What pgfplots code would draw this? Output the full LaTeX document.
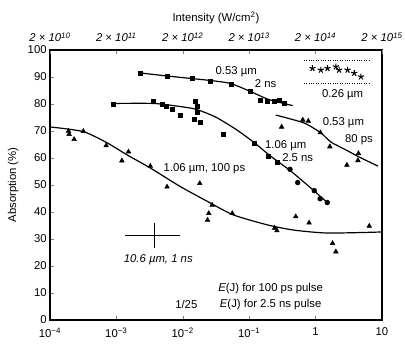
\documentclass[border=0pt]{standalone}
\usepackage{fontspec}
\setmainfont{Liberation Sans}
\usepackage{pgfplots}
\pgfplotsset{compat=1.18}
\begin{document}
\begin{tikzpicture}[x=1pt,y=1pt]
\useasboundingbox (-37.5,-18.75) rectangle (266.25,240);
\begin{axis}[at={(0,0)},anchor=south west,scale only axis,
  width=249pt,height=202.5pt,
  xmode=log,xmin=1e-4,xmax=10,ymin=0,ymax=100,
  xtick={1e-4,1e-3,1e-2,1e-1,1,10},
  xticklabels={10\textsuperscript{−4},10\textsuperscript{−3},10\textsuperscript{−2},10\textsuperscript{−1},1,10},
  xminorticks=false,
  ytick={0,10,...,100},
  xtick pos=bottom, ytick pos=left,
  tick align=inside, major tick length=3pt,
  axis line style={line width=0.9pt},
  font=\fontsize{8.5}{10}\selectfont,
  tick label style={font=\fontsize{8.5}{10}\selectfont},
  yticklabel style={xshift=1pt},
  xticklabel style={yshift=-2.5pt},
  /pgf/number format/assume math mode=true,
  ylabel={Absorption (\%)},
  ylabel style={at={(axis description cs:-0.111,0.5)},anchor=center,font=\fontsize{8.5}{10}\selectfont},
  clip=false]
% 0.53 um, 2 ns
\addplot[black,line width=0.9pt,smooth,tension=0.4] coordinates {
(0.00229,91.5)(0.00565,90.4)(0.0140,89.4)(0.0261,88.7)(0.0524,87.6)(0.105,84.6)(0.190,81.8)(0.331,80.2)(0.453,79.4)};
\addplot[only marks,mark=square*,mark size=1.5pt,black] coordinates {
(0.00229,91.4)(0.00580,90.1)(0.0138,89.5)(0.0256,88.6)(0.0533,87.2)(0.103,84.6)(0.146,81.2)(0.187,80.9)(0.238,80.9)(0.288,81.5)(0.343,80.4)};
% 1.06 um, 2.5 ns
\addplot[black,line width=0.9pt,smooth,tension=0.4] coordinates {
(8.65e-4,80.2)(0.00360,80.2)(0.00773,79.3)(0.0155,78.1)(0.0310,75.2)(0.0624,70.7)(0.116,65.9)(0.210,60.7)(0.421,55.2)(0.845,48.9)(1.53,43.3)};
\addplot[only marks,mark=square*,mark size=1.5pt,black] coordinates {
(8.85e-4,79.9)(0.00363,80.9)(0.00486,79.8)(0.00565,79.0)(0.00689,78.0)(0.00920,75.7)(0.0155,80.9)(0.0164,79.0)(0.0164,77.1)(0.0150,74.3)(0.0185,73.4)(0.0404,68.7)(0.118,65.6)(0.196,60.7)(0.265,58.6)};
\addplot[only marks,mark=*,mark size=1.8pt,black] coordinates {
(0.412,55.8)(0.538,50.9)(0.955,47.9)(1.17,44.9)(1.50,43.5)};
% 0.53 um, 80 ps
\addplot[black,line width=0.9pt,smooth,tension=0.4] coordinates {
(0.251,75.9)(0.664,73.0)(1.20,69.3)(1.70,65.9)(2.86,63.0)(4.50,60.4)(8.70,57.0)};
\addplot[only marks,mark=triangle*,mark size=2pt,black] coordinates {
(0.308,71.5)(0.641,74.1)(0.776,73.7)(1.18,69.4)(1.64,64.2)(4.42,61.7)(4.34,59.1)(2.96,57.4)};
% 1.06 um, 100 ps
\addplot[black,line width=0.9pt,smooth,tension=0.4] coordinates {
(1e-4,71.5)(3.15e-4,69.8)(7.26e-4,65.6)(1.46e-3,61.1)(3.24e-3,56.3)(9.20e-3,49.4)(0.0236,43.9)(0.0580,38.9)(0.190,35.2)(0.469,33.3)(1.53,32.2)(10,32.6)};
\addplot[only marks,mark=triangle*,mark size=2pt,black] coordinates {
(1.90e-4,70.0)(1.94e-4,68.8)(2.31e-4,66.9)(3.18e-4,69.9)(7.02e-4,64.6)(1.21e-3,59.0)(1.52e-3,62.3)(3.24e-3,57.0)(5.79e-3,49.3)(0.0180,50.6)(0.0277,42.6)(0.0246,39.5)(0.0236,37.0)(0.0556,39.5)(0.242,34.1)(0.262,33.1)(0.502,38.3)(0.798,36.0)(1.80,28.4)(2.02,25.3)(6.43,34.8)};
% 0.26 um
\addplot[black,densely dotted,line width=0.8pt] coordinates {(0.664,96.0)(6.82,96.0)};
\addplot[black,densely dotted,line width=0.8pt] coordinates {(0.664,87.7)(6.82,87.7)};
\addplot[only marks,mark=star,mark size=2.4pt,black,thick] coordinates {
(0.897,93.2)(1.20,92.6)(1.51,93.2)(2.02,93.8)(2.26,92.6)(3.03,92.6)(3.82,91.4)(4.82,90.1)};
% 10.6 um error cross
\addplot[black,line width=0.9pt] coordinates {(1.36e-3,31.2)(9.2e-3,31.2)};
\addplot[black,line width=0.9pt] coordinates {(3.72e-3,26.7)(3.72e-3,35.9)};
% labels
\node at (axis cs:0.0638,92.0) {0.53 µm};
\node at (axis cs:0.177,87.7) {2 ns};
\node at (axis cs:2.62,73.1) {0.53 µm};
\node at (axis cs:4.50,66.7) {80 ps};
\node at (axis cs:0.355,64.4) {1.06 µm};
\node at (axis cs:0.538,60.3) {2.5 ns};
\node at (axis cs:0.0212,55.9) {1.06 µm, 100 ps};
\node at (axis cs:4.27e-3,22.2) {\itshape 10.6 µm, 1 ns};
\node at (axis cs:2.55,83.6) {0.26 µm};
\node at (axis cs:0.0113,5.6) {1/25};
\node at (axis cs:0.210,11.5) {\textit{E}(J) for 100 ps pulse};
\node at (axis cs:0.210,5.6) {\textit{E}(J) for 2.5 ns pulse};
\end{axis}
\begin{axis}[at={(0,0)},anchor=south west,scale only axis,
  width=249pt,height=202.5pt,
  xmode=log,xmin=1e-4,xmax=10,ymin=0,ymax=100,
  axis x line*=top, axis y line=none,
  xtick={1e-4,1e-3,1e-2,1e-1,1,10},
  xticklabels={2 × 10\textsuperscript{10},2 × 10\textsuperscript{11},2 × 10\textsuperscript{12},2 × 10\textsuperscript{13},2 × 10\textsuperscript{14},2 × 10\textsuperscript{15}},
  xminorticks=false,
  tick align=inside, major tick length=3pt,
  axis line style={line width=0.9pt},
  tick label style={font=\fontsize{8.5}{10}\selectfont\itshape},
  xticklabel style={yshift=2.5pt},
  xlabel={Intensity (W/cm\textsuperscript{2})},
  xlabel style={font=\fontsize{8.5}{10}\selectfont}]
\end{axis}
\end{tikzpicture}
\end{document}
